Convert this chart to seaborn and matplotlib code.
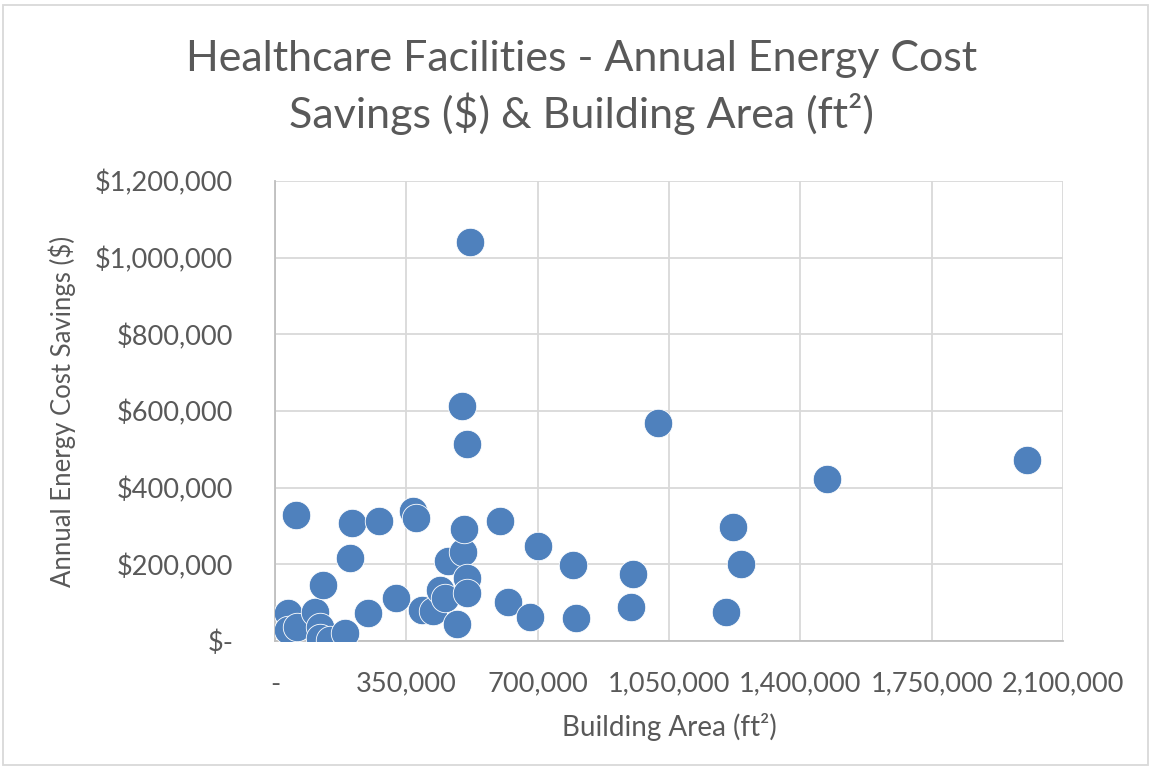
import matplotlib
matplotlib.use("Agg")
import matplotlib.pyplot as plt
import matplotlib.ticker as mticker
from matplotlib.patches import Rectangle
import seaborn as sns
import pandas as pd

building_area = [35000, 35000, 58000, 55000, 107000, 120000, 120000, 147000, 187000,
                 127000, 200000, 206000, 276000, 249000, 322000, 367000, 376000,
                 391000, 420000, 440000, 452000, 462000, 484000, 500000, 504000,
                 511000, 511000, 499000, 512000, 519000, 600000, 622000, 680000,
                 702000, 793000, 803000, 948000, 955000, 1021000, 1201000, 1221000,
                 1242000, 1472000, 2003000]
cost_savings = [72000, 29000, 37000, 328000, 76000, 37000, 7000, 3000, 20000,
                145000, 216000, 307000, 313000, 73000, 111000, 338000, 321000,
                82000, 79000, 133000, 112000, 210000, 44000, 231000, 292000,
                165000, 124000, 613000, 515000, 1041000, 312000, 103000, 63000,
                247000, 197000, 59000, 89000, 174000, 569000, 75000, 298000,
                200000, 422000, 471000]

x_ticks = [0, 350000, 700000, 1050000, 1400000, 1750000, 2100000]
y_ticks = [0, 200000, 400000, 600000, 800000, 1000000, 1200000]

df = pd.DataFrame({"area": building_area, "savings": cost_savings})

sns.set_theme(style="white")
plt.rcParams["font.family"] = ["Lato", "DejaVu Sans"]

text_color = "#595959"
fig = plt.figure(figsize=(11.54, 7.7), dpi=100)
ax = fig.add_axes([0.2383, 0.1675, 0.683, 0.5975])

sns.scatterplot(data=df, x="area", y="savings", ax=ax, s=420,
                color="#4F81BD", edgecolor="white", linewidth=0.6, zorder=3)

ax.set_xlim(0, 2100000)
ax.set_ylim(0, 1200000)
ax.set_xticks(x_ticks)
ax.set_yticks(y_ticks)
ax.xaxis.set_major_formatter(mticker.FuncFormatter(lambda v, p: "-" if v == 0 else f"{int(v):,}"))
ax.yaxis.set_major_formatter(mticker.FuncFormatter(lambda v, p: "$-" if v == 0 else f"${int(v):,}"))

ax.grid(True, color="#D9D9D9", linewidth=1.3, zorder=0)
ax.set_axisbelow(True)
for side in ["top", "right"]:
    ax.spines[side].set_visible(False)
for side in ["left", "bottom"]:
    ax.spines[side].set_color("#BFBFBF")
    ax.spines[side].set_linewidth(1.3)

ax.tick_params(axis="both", which="major", length=8, width=1.3, color="#BFBFBF",
               labelsize=19.5, labelcolor=text_color)
ax.tick_params(axis="y", pad=22)
ax.tick_params(axis="x", pad=14)

ax.set_xlabel("Building Area (ft²)", fontsize=20, color=text_color, labelpad=12)
ax.set_ylabel("Annual Energy Cost Savings ($)", fontsize=18.5, color=text_color, labelpad=14)

fig.text(0.504, 0.886, "Healthcare Facilities - Annual Energy Cost\nSavings ($) & Building Area (ft²)",
         ha="center", va="center", fontsize=31, color=text_color, linespacing=1.4)

fig.patches.append(Rectangle((0.003, 0.006), 0.992, 0.988, transform=fig.transFigure,
                             fill=False, edgecolor="#D9D9D9", linewidth=1.3))

fig.savefig("out.png", dpi=100, facecolor="white")
